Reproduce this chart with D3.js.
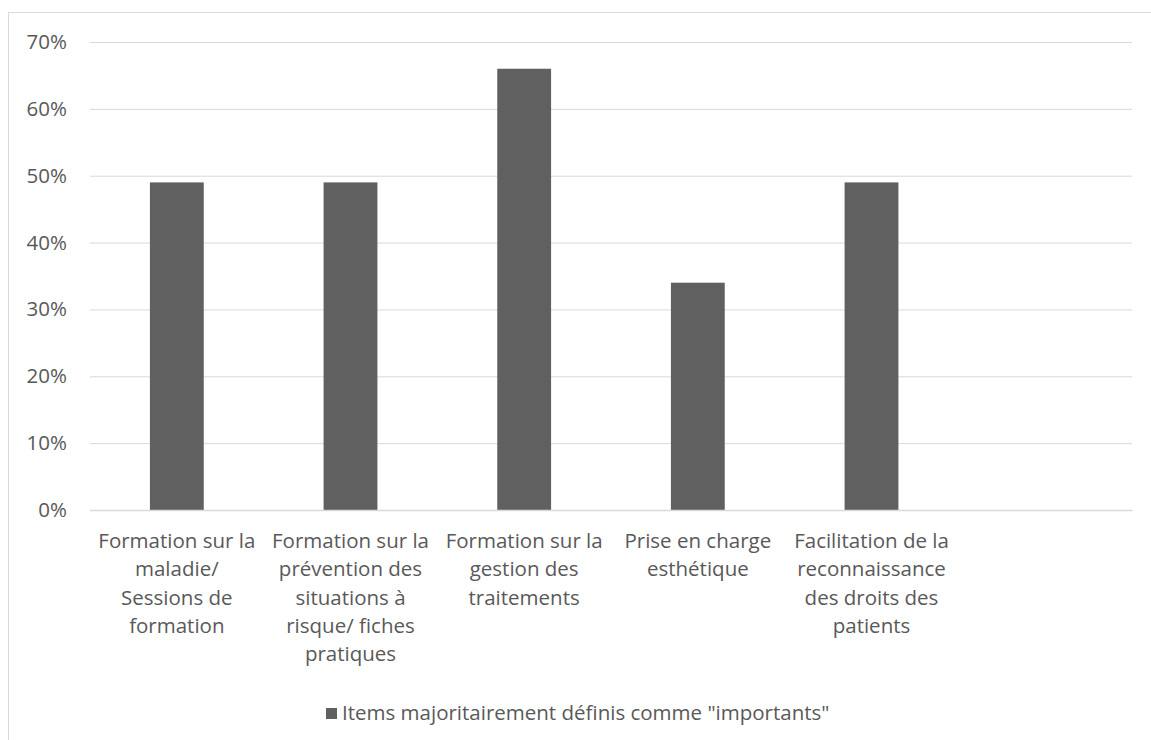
<!DOCTYPE html>
<html><head><meta charset="utf-8">
<script src="https://cdn.jsdelivr.net/npm/d3@7"></script>
<style>body{margin:0;background:#fff}svg{display:block}</style>
</head><body>
<svg id="c" width="1151" height="740"></svg>
<script>
const categories = [
  ["Formation sur la","maladie/","Sessions de","formation"],
  ["Formation sur la","prévention des","situations à","risque/ fiches","pratiques"],
  ["Formation sur la","gestion des","traitements"],
  ["Prise en charge","esthétique"],
  ["Facilitation de la","reconnaissance","des droits des","patients"],
  [""]
];
const values = [0.49, 0.49, 0.66, 0.34, 0.49, null];
const yTicks = [0,0.1,0.2,0.3,0.4,0.5,0.6,0.7];
const seriesName = 'Items majoritairement définis comme "importants"';

const svg = d3.select("#c");
const font = "'Open Sans', sans-serif";
const fs = "20.5px";
const textColor = "#595959";
const gridColor = "#d9d9d9";
const barColor = "#606060";

svg.append("rect").attr("x",8.5).attr("y",12.5).attr("width",1160).attr("height",760)
  .attr("fill","#fff").attr("stroke","#d9d9d9").attr("stroke-width",1);

const x0 = 90, x1 = 1132, yTop = 42, yBot = 510;
const x = d3.scaleBand().domain(d3.range(categories.length)).range([x0,x1]).paddingInner(0.69).paddingOuter(0.345);
const y = d3.scaleLinear().domain([0,0.7]).range([yBot,yTop]);

const yAxis = d3.axisLeft(y).tickValues(yTicks).tickFormat(d3.format(".0%")).tickSize(-(x1-x0)).tickPadding(23);
const gy = svg.append("g").attr("transform",`translate(${x0},0)`).call(yAxis);
gy.select(".domain").remove();
gy.selectAll(".tick line").attr("stroke",gridColor).attr("stroke-width",1);
gy.selectAll(".tick text").attr("fill",textColor).style("font-family",font).style("font-size",fs);

svg.append("g").selectAll("rect").data(values.map((v,i)=>({v,i})).filter(d=>d.v!=null)).join("rect")
  .attr("x",d=>x(d.i)).attr("width",x.bandwidth())
  .attr("y",d=>y(d.v)).attr("height",d=>y(0)-y(d.v)).attr("fill",barColor);

const xAxis = d3.axisBottom(x).tickSize(0).tickFormat("");
const gx = svg.append("g").attr("transform",`translate(0,${yBot})`).call(xAxis);
gx.select(".domain").attr("stroke",gridColor).attr("stroke-width",1.5);

const lab = svg.append("g");
categories.forEach((lines,i)=>{
  const cx = x(i)+x.bandwidth()/2;
  const t = lab.append("text").attr("x",cx).attr("y",548).attr("text-anchor","middle")
    .attr("fill",textColor).style("font-family",font).style("font-size",fs);
  lines.forEach((l,j)=>t.append("tspan").attr("x",cx).attr("dy",j?28.3:0).text(l));
});

const lg = svg.append("g");
lg.append("rect").attr("x",326).attr("y",708).attr("width",11).attr("height",11).attr("fill",barColor);
lg.append("text").attr("x",342).attr("y",720).attr("fill",textColor)
  .style("font-family",font).style("font-size",fs).text(seriesName);
</script>
</body></html>
